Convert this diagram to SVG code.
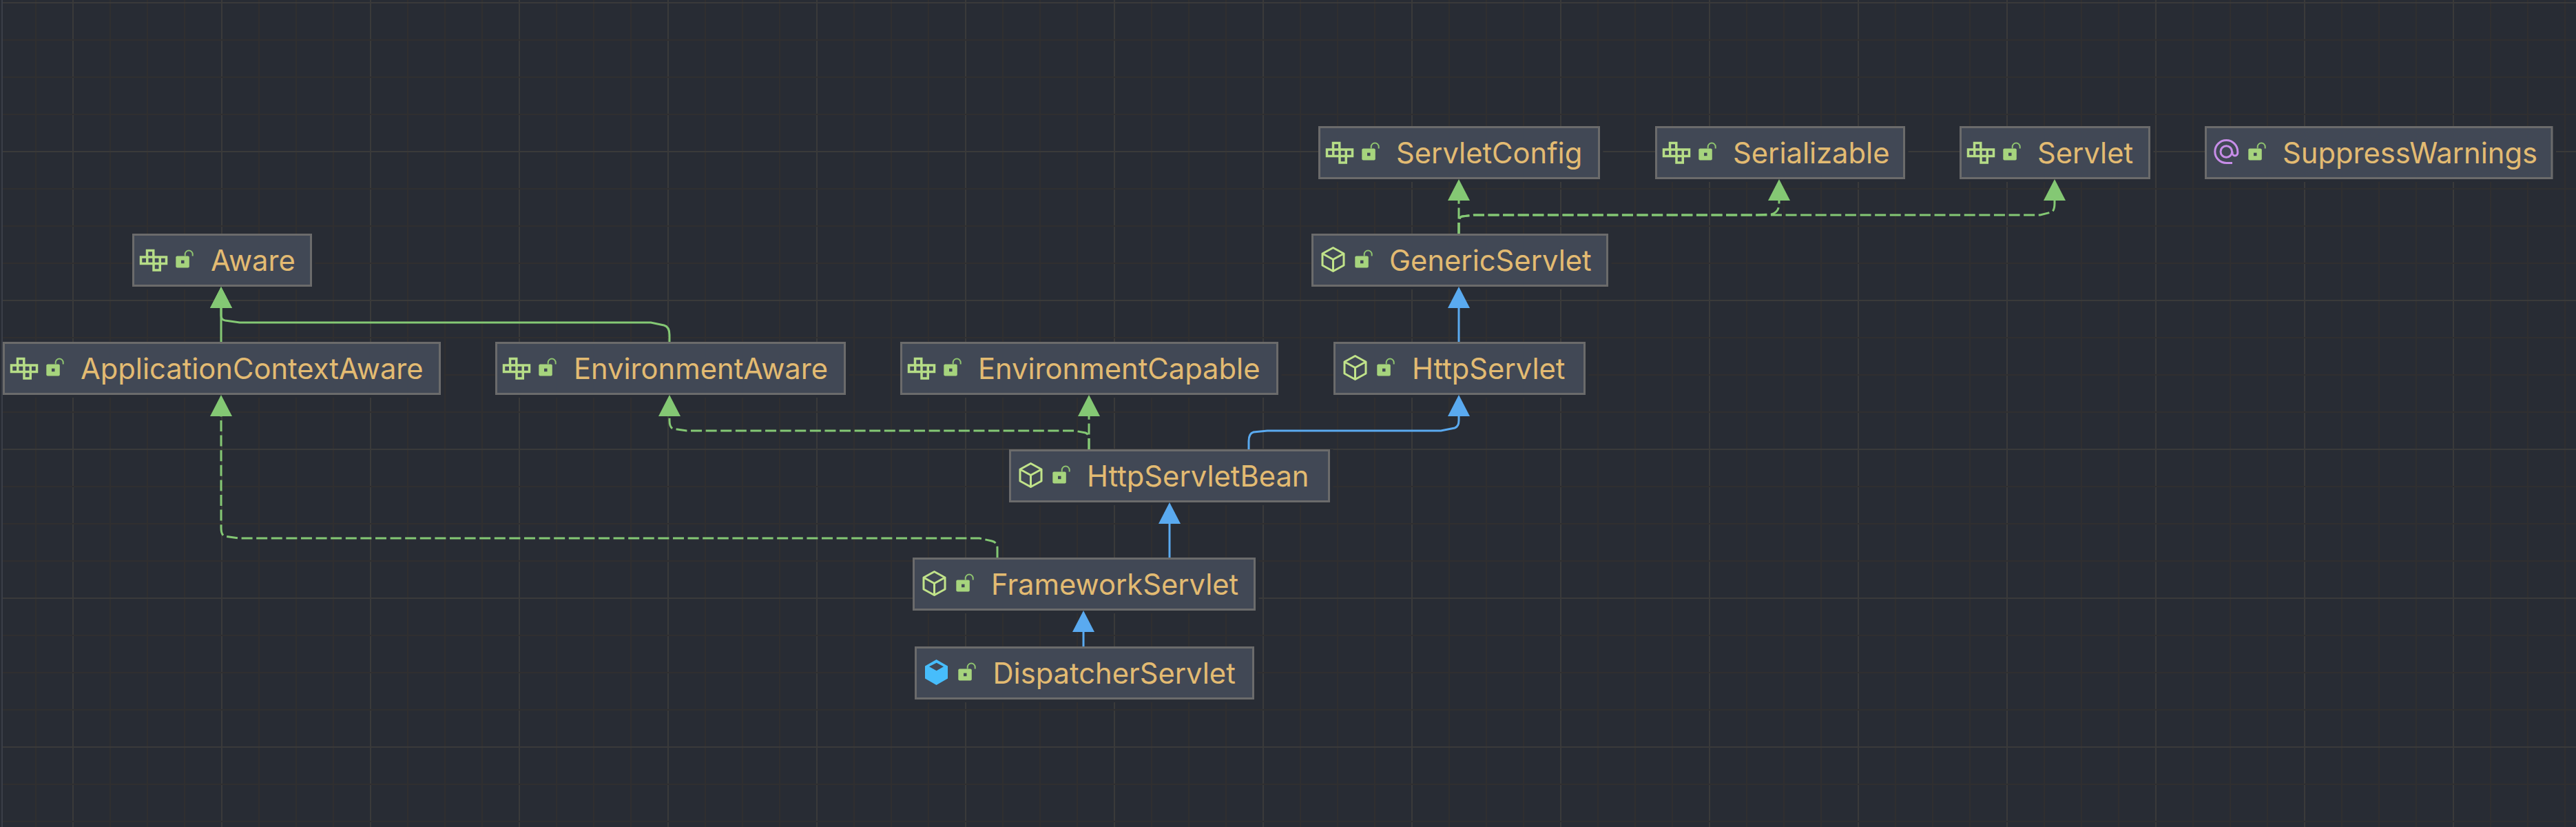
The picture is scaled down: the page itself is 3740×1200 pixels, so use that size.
<svg xmlns="http://www.w3.org/2000/svg" width="3740" height="1200" viewBox="0 0 3740 1200">
<defs>
<style>
.minor{stroke:#302f30;stroke-width:2;fill:none}
.major{stroke:#3a3a3a;stroke-width:2;fill:none}
.shadow{fill:#282c34}
.box{fill:#414855;stroke:#6b6b6b;stroke-width:3}
.label{font-family:"Inter","Liberation Sans",sans-serif;font-size:41.7px;fill:#e3bb72}
.conn{fill:none;stroke-width:3}
.green{stroke:#84c874}
.blue{stroke:#5aaaf0}
.dash{stroke-dasharray:16 5.6}
</style>
<marker id="arrow-green" markerUnits="userSpaceOnUse" viewBox="0 -17 32 34" refX="0" refY="0" markerWidth="32" markerHeight="34" orient="auto"><path d="M0 -16L31 0L0 16Z" fill="#84c874"/></marker>
<marker id="arrow-blue" markerUnits="userSpaceOnUse" viewBox="0 -17 32 34" refX="0" refY="0" markerWidth="32" markerHeight="34" orient="auto"><path d="M0 -16L31 0L0 16Z" fill="#5aaaf0"/></marker>
<g id="lock"><rect x="63.3" y="32.5" width="19.5" height="17" rx="2" fill="#a6d47d"/><rect x="71" y="38.7" width="4.5" height="4.5" fill="#414855"/><path d="M76.7 32.5V30A5.5 5.5 0 0 1 87.7 30V32.5" fill="none" stroke="#8fc46f" stroke-width="2"/></g>
<g id="iface"><path d="M21.5 24.5h9.25v9.5h-9.25zM12.5 34h9.25v9.5h-9.25zM21.75 34h9.25v9.5h-9.25zM31 34h9.25v9.5h-9.25zM40.25 34h9.25v9.5h-9.25zM31 43.5h9.25v9.5h-9.25z" fill="none" stroke="#b6dd87" stroke-width="3.5"/></g>
<g id="cls"><path d="M31.5 20.5L47 29V46L31.5 54.5L16 46V29ZM16 29L31.5 37.5L47 29M31.5 37.5V54.5" fill="none" stroke="#c1e38a" stroke-width="3" stroke-linejoin="round"/></g>
<g id="cls-fill"><path d="M31.5 19L48 28.5V46.5L31.5 56L15 46.5V28.5Z" fill="#47bdfb"/><path d="M31.7 23.7L42 29.3L31.7 35.3L21 29.3Z" fill="#414855"/></g>
<g id="anno"><path d="M40 53.5H31.3A16.5 16.5 0 1 1 47.8 37V39A3.8 3.8 0 0 1 40 39V37" fill="none" stroke="#c78de8" stroke-width="3"/><circle cx="31.3" cy="37" r="8.3" fill="none" stroke="#c78de8" stroke-width="3"/></g>
</defs>
<rect width="3740" height="1200" fill="#282c34"/>
<g id="grid">
<path class="minor" d="M52 0V1200M160 0V1200M214 0V1200M268 0V1200M376 0V1200M430 0V1200M484 0V1200M592 0V1200M646 0V1200M700 0V1200M808 0V1200M862 0V1200M916 0V1200M1024 0V1200M1078 0V1200M1132 0V1200M1240 0V1200M1294 0V1200M1348 0V1200M1456 0V1200M1510 0V1200M1564 0V1200M1672 0V1200M1726 0V1200M1780 0V1200M1888 0V1200M1942 0V1200M1996 0V1200M2104 0V1200M2158 0V1200M2212 0V1200M2320 0V1200M2374 0V1200M2428 0V1200M2536 0V1200M2590 0V1200M2644 0V1200M2752 0V1200M2806 0V1200M2860 0V1200M2968 0V1200M3022 0V1200M3076 0V1200M3184 0V1200M3238 0V1200M3292 0V1200M3400 0V1200M3454 0V1200M3508 0V1200M3616 0V1200M3670 0V1200M3724 0V1200"/>
<path class="major" d="M106 0V1200M322 0V1200M538 0V1200M754 0V1200M970 0V1200M1186 0V1200M1402 0V1200M1618 0V1200M1834 0V1200M2050 0V1200M2266 0V1200M2482 0V1200M2698 0V1200M2914 0V1200M3130 0V1200M3346 0V1200M3562 0V1200"/>
<path class="minor" d="M4 58H3740M4 112H3740M4 166H3740M4 274H3740M4 328H3740M4 382H3740M4 490H3740M4 544H3740M4 598H3740M4 706H3740M4 760H3740M4 814H3740M4 922H3740M4 976H3740M4 1030H3740M4 1138H3740M4 1192H3740"/>
<path class="major" d="M4 4H3740M4 220H3740M4 436H3740M4 652H3740M4 868H3740M4 1084H3740"/>
<path d="M3 0V1200" stroke="#3b3f48" stroke-width="2" fill="none"/>
</g>
<g id="nodes">
<g id="node-aware" transform="translate(192 339)"><rect class="shadow" width="265.5" height="81"/><rect class="box" x="1.5" y="1.5" width="258" height="74"/><use href="#iface"/><use href="#lock"/><text class="label" x="114" y="54">Aware</text></g>
<g id="node-applicationcontextaware" transform="translate(4 496)"><rect class="shadow" width="640.5" height="81"/><rect class="box" x="1.5" y="1.5" width="633" height="74"/><use href="#iface"/><use href="#lock"/><text class="label" x="113" y="54">ApplicationContextAware</text></g>
<g id="node-environmentaware" transform="translate(719 496)"><rect class="shadow" width="513.5" height="81"/><rect class="box" x="1.5" y="1.5" width="506" height="74"/><use href="#iface"/><use href="#lock"/><text class="label" x="114" y="54">EnvironmentAware</text></g>
<g id="node-environmentcapable" transform="translate(1307 496)"><rect class="shadow" width="553.5" height="81"/><rect class="box" x="1.5" y="1.5" width="546" height="74"/><use href="#iface"/><use href="#lock"/><text class="label" x="113" y="54">EnvironmentCapable</text></g>
<g id="node-httpservlet" transform="translate(1936 496)"><rect class="shadow" width="370.5" height="81"/><rect class="box" x="1.5" y="1.5" width="363" height="74"/><use href="#cls"/><use href="#lock"/><text class="label" x="114" y="54">HttpServlet</text></g>
<g id="node-servletconfig" transform="translate(1914 183)"><rect class="shadow" width="413.5" height="81"/><rect class="box" x="1.5" y="1.5" width="406" height="74"/><use href="#iface"/><use href="#lock"/><text class="label" x="113" y="54">ServletConfig</text></g>
<g id="node-serializable" transform="translate(2403 183)"><rect class="shadow" width="367.5" height="81"/><rect class="box" x="1.5" y="1.5" width="360" height="74"/><use href="#iface"/><use href="#lock"/><text class="label" x="113" y="54">Serializable</text></g>
<g id="node-servlet" transform="translate(2845 183)"><rect class="shadow" width="281.5" height="81"/><rect class="box" x="1.5" y="1.5" width="274" height="74"/><use href="#iface"/><use href="#lock"/><text class="label" x="113" y="54">Servlet</text></g>
<g id="node-suppresswarnings" transform="translate(3201 183)"><rect class="shadow" width="510" height="81"/><rect class="box" x="1.5" y="1.5" width="502.500" height="74"/><use href="#anno"/><use href="#lock"/><text class="label" x="113" y="54">SuppressWarnings</text></g>
<g id="node-genericservlet" transform="translate(1904 339)"><rect class="shadow" width="435.5" height="81"/><rect class="box" x="1.5" y="1.5" width="428" height="74"/><use href="#cls"/><use href="#lock"/><text class="label" x="113" y="54">GenericServlet</text></g>
<g id="node-httpservletbean" transform="translate(1465 652)"><rect class="shadow" width="470.5" height="81"/><rect class="box" x="1.5" y="1.5" width="463" height="74"/><use href="#cls"/><use href="#lock"/><text class="label" x="113" y="54">HttpServletBean</text></g>
<g id="node-frameworkservlet" transform="translate(1325 809)"><rect class="shadow" width="502.500" height="81"/><rect class="box" x="1.5" y="1.5" width="495" height="74"/><use href="#cls"/><use href="#lock"/><text class="label" x="114" y="54">FrameworkServlet</text></g>
<g id="node-dispatcherservlet" transform="translate(1328 938)"><rect class="shadow" width="497.500" height="81"/><rect class="box" x="1.5" y="1.5" width="490" height="74"/><use href="#cls-fill"/><use href="#lock"/><text class="label" x="113.500" y="54">DispatcherServlet</text></g>
</g>
<g id="connectors">
<path class="conn green" marker-end="url(#arrow-green)" d="M321 496V447"/>
<path class="conn green" marker-end="url(#arrow-green)" d="M972 496V486Q972 474 964 472L945 468H348L327 465Q321 464 321 458V447"/>
<path class="conn green dash" marker-end="url(#arrow-green)" d="M2118 339V291"/>
<path class="conn green dash" marker-end="url(#arrow-green)" d="M2118 339V322Q2118 315 2123 314L2140 312H2550L2572 311Q2583 308 2583 295V291"/>
<path class="conn green dash" marker-end="url(#arrow-green)" d="M2118 339V322Q2118 315 2123 314L2140 312H2962L2978 308Q2983 306 2983 295V291"/>
<path class="conn blue" marker-end="url(#arrow-blue)" d="M2118 496V447"/>
<path class="conn blue" marker-end="url(#arrow-blue)" d="M1813 652V640Q1813 629 1820 627L1840 625H2092L2112 621Q2118 619 2118 610V604"/>
<path class="conn green dash" marker-end="url(#arrow-green)" d="M1581 652V604"/>
<path class="conn green dash" marker-end="url(#arrow-green)" d="M1581 652V636Q1581 630 1576 628L1560 625H997L977 622Q972 620 972 610V604"/>
<path class="conn blue" marker-end="url(#arrow-blue)" d="M1698 809V760"/>
<path class="conn green dash" marker-end="url(#arrow-green)" d="M1448 809V795Q1448 787 1440 785L1422 781H346L326 778Q321 776 321 766V604"/>
<path class="conn blue" marker-end="url(#arrow-blue)" d="M1573 938V917"/>
</g>
</svg>
